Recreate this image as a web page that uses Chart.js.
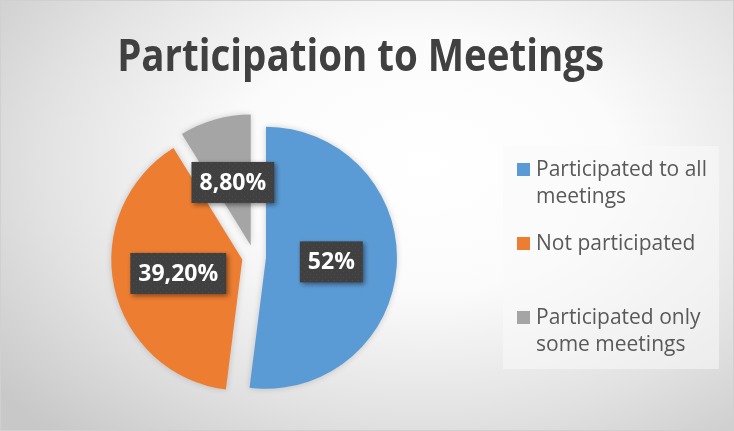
<!DOCTYPE html>
<html>
<head>
<meta charset="utf-8">
<script src="https://cdn.jsdelivr.net/npm/chart.js@4/dist/chart.umd.min.js"></script>
<style>
  html, body { margin: 0; padding: 0; }
  body { width: 734px; height: 431px; overflow: hidden; }
  #wrap {
    position: relative; width: 732px; height: 429px;
    border: 1px solid #d0d0d0;
    background: radial-gradient(ellipse 75% 85% at 58% 38%, #ffffff 0%, #fbfbfb 35%, #e2e2e2 70%, #c8c8c8 100%);
    overflow: hidden;
  }
  #chart { position: absolute; left: -1px; top: -1px; }
  #title {
    position: absolute; left: -1px; top: 30px; width: 721px; text-align: center;
    font-family: "Open Sans", sans-serif; font-weight: bold; font-size: 45px; line-height: 45px;
    color: #404040; white-space: nowrap;
  }
  #title span { display: inline-block; transform-origin: center; }
  #legendBox {
    position: absolute; left: 502px; top: 145px; width: 216px; height: 223px;
    background: rgba(250,250,250,0.55);
  }
  .item { position: absolute; left: 535px; font-family: "Open Sans", sans-serif; font-size: 21px; line-height: 27px; color: #595959; white-space: nowrap; }
  .sq { position: absolute; left: 516px; width: 13px; height: 13px; }
</style>
</head>
<body>
<div id="wrap">
  <canvas id="chart" width="734" height="431"></canvas>
  <div id="title"><span id="titleText">Participation to Meetings</span></div>
  <div id="legendBox"></div>
  <div id="legend"></div>
</div>
<script>
const categories = ["Participated to all meetings", "Not participated", "Participated only some meetings"];
const legendLines = [["Participated to all", "meetings"], ["Not participated"], ["Participated only", "some meetings"]];
const values = [52, 39.2, 8.8];
const colors = ["#5B9BD5", "#ED7D31", "#A5A5A5"];
const legendTops = [154, 228, 302];
const EXPLODE = 12;

function fmt(v) {
  return Number.isInteger(v) ? v + "%" : v.toFixed(2).replace(".", ",") + "%";
}

// fit title width like the reference
(function () {
  const c = document.createElement("canvas").getContext("2d");
  c.font = 'bold 45px "Open Sans"';
  const w = c.measureText("Participation to Meetings").width;
  document.getElementById("titleText").style.transform = "scaleX(" + (487 / w) + ")";
})();

// legend
const lg = document.getElementById("legend");
categories.forEach((c, i) => {
  const sq = document.createElement("div");
  sq.className = "sq";
  sq.style.top = (legendTops[i] + 8) + "px";
  sq.style.background = colors[i];
  lg.appendChild(sq);
  const t = document.createElement("div");
  t.className = "item";
  t.style.top = legendTops[i] + "px";
  t.innerHTML = legendLines[i].join("<br>");
  lg.appendChild(t);
});

// dotted pattern for label boxes
const pc = document.createElement("canvas");
pc.width = 6; pc.height = 6;
const px = pc.getContext("2d");
px.fillStyle = "#404040"; px.fillRect(0, 0, 6, 6);
px.fillStyle = "#4c4c4c"; px.fillRect(1, 1, 1, 1); px.fillRect(4, 4, 1, 1);

// exploded slices: draw each library arc element shifted along its mid angle
const explodePlugin = {
  id: "explode",
  beforeDatasetsDraw(chart) {
    const ctx = chart.ctx;
    const meta = chart.getDatasetMeta(0);
    meta.data.forEach((arc) => {
      const mid = (arc.startAngle + arc.endAngle) / 2;
      ctx.save();
      ctx.shadowColor = "rgba(0,0,0,0.18)";
      ctx.shadowBlur = 6;
      ctx.translate(Math.cos(mid) * EXPLODE, Math.sin(mid) * EXPLODE);
      arc.draw(ctx);
      ctx.restore();
    });
    return false;
  }
};

const labelPlugin = {
  id: "boxLabels",
  afterDraw(chart) {
    const ctx = chart.ctx;
    const meta = chart.getDatasetMeta(0);
    const pattern = ctx.createPattern(pc, "repeat");
    meta.data.forEach((arc, i) => {
      const mid = (arc.startAngle + arc.endAngle) / 2;
      const d = arc.outerRadius / 2 + EXPLODE;
      const cx = arc.x + Math.cos(mid) * d;
      const cy = arc.y + Math.sin(mid) * d;
      const text = fmt(values[i]);
      ctx.save();
      ctx.font = 'bold 23px "Open Sans"';
      const tw = ctx.measureText(text).width;
      const bw = tw + 16, bh = 41;
      ctx.shadowColor = "rgba(0,0,0,0.45)";
      ctx.shadowBlur = 5;
      ctx.shadowOffsetX = 2;
      ctx.shadowOffsetY = 2;
      ctx.fillStyle = pattern;
      ctx.fillRect(cx - bw / 2, cy - bh / 2, bw, bh);
      ctx.shadowColor = "transparent";
      ctx.fillStyle = "#ffffff";
      ctx.textAlign = "center";
      ctx.textBaseline = "middle";
      ctx.fillText(text, cx, cy + 1);
      ctx.restore();
    });
  }
};

new Chart(document.getElementById("chart"), {
  type: "pie",
  data: {
    labels: categories,
    datasets: [{
      data: values,
      backgroundColor: colors,
      borderWidth: 0
    }]
  },
  options: {
    responsive: false,
    animation: false,
    events: [],
    layout: { padding: { left: 123, top: 126, right: 349, bottom: 43 } },
    plugins: { legend: { display: false }, title: { display: false }, tooltip: { enabled: false } }
  },
  plugins: [explodePlugin, labelPlugin]
});
</script>
</body>
</html>
